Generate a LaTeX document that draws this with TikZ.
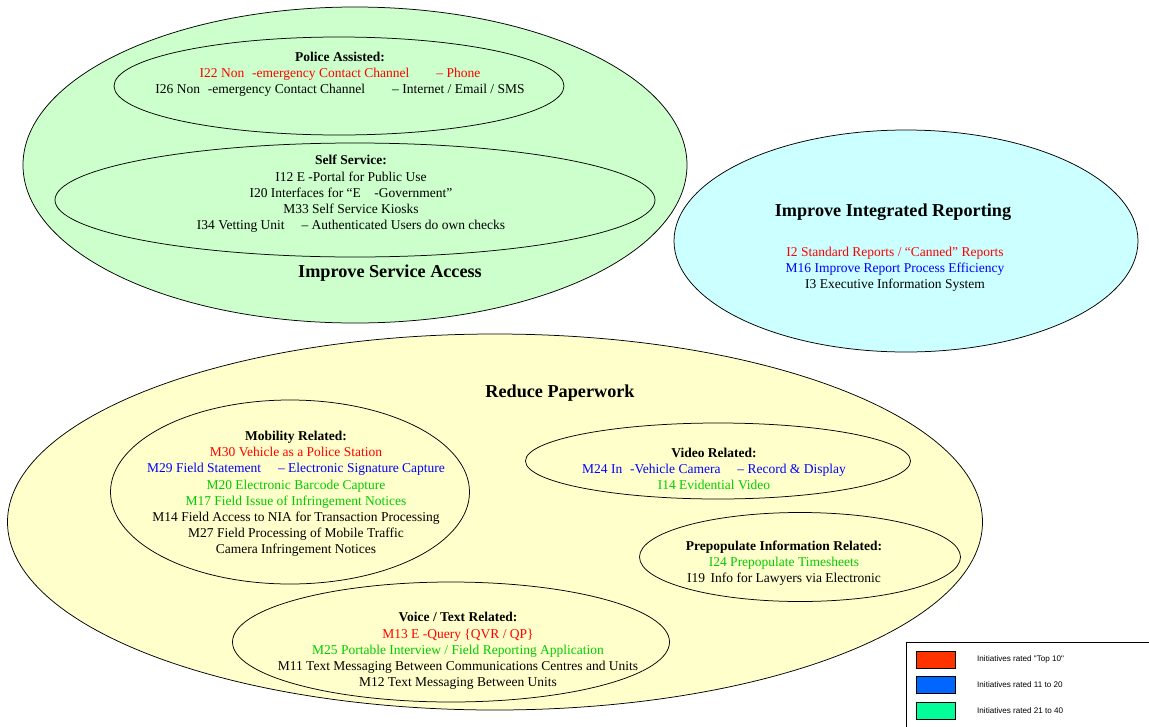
\documentclass[tikz,border=0pt]{standalone}
\usepackage{fontspec}
\setmainfont{Liberation Serif}
\newfontfamily\legendfont{Liberation Sans}
\usetikzlibrary{shapes.geometric}
\definecolor{fgreen}{HTML}{CCFFCC}
\definecolor{fcyan}{HTML}{CCFFFF}
\definecolor{fyellow}{HTML}{FFFFCC}
\definecolor{tred}{HTML}{FF0000}
\definecolor{tblue}{HTML}{0000FF}
\definecolor{tgreen}{HTML}{00CC00}
\definecolor{lred}{HTML}{FF3300}
\definecolor{lblue}{HTML}{0066FF}
\definecolor{lgreen}{HTML}{00FF99}
\tikzset{
  oval/.style={ellipse, draw=black, line width=0.75pt, inner sep=0pt},
  body/.style={align=center, inner sep=0pt, font=\fontsize{13.5}{16.2}\selectfont},
  bigtitle/.style={inner sep=0pt, font=\fontsize{18.2}{20}\selectfont\bfseries},
  swatch/.style={draw=black, line width=1pt, minimum width=39pt, minimum height=17pt, inner sep=0pt},
  legtext/.style={anchor=west, inner sep=0pt, font=\legendfont\fontsize{8.1}{9}\selectfont}
}
\newcommand{\hd}[1]{\textbf{#1}}
\begin{document}
\begin{tikzpicture}[x=1pt,y=-1pt]
\useasboundingbox (0,0) rectangle (1149,726);
% Improve Service Access
\node[oval, fill=fgreen, minimum width=664pt, minimum height=316pt] (isa) at (355,165) {};
\node[oval, fill=fgreen, minimum width=450pt, minimum height=98pt] (police) at (339,86) {};
\node[oval, fill=fgreen, minimum width=600pt, minimum height=114pt] (self) at (355,200) {};
\node[body] (policeT) at (340,74) {\hd{Police Assisted:}\\
  \textcolor{tred}{I22 Non\,\, -emergency Contact Channel\quad\quad – Phone}\\
  I26 Non\,\, -emergency Contact Channel\quad\quad – Internet / Email / SMS};
\node[body] (selfT) at (351,194) {\hd{Self Service:}\\
  I12 E -Portal for Public Use\\
  I20 Interfaces for “E\quad -Government”\\
  M33 Self Service Kiosks\\
  I34 Vetting Unit\quad\ – Authenticated Users do own checks};
\node[bigtitle] (isaT) at (390,273) {Improve Service Access};
% Improve Integrated Reporting
\node[oval, fill=fcyan, minimum width=464pt, minimum height=222pt] (iir) at (906,241) {};
\node[bigtitle] (iirT) at (893,212) {Improve Integrated Reporting};
\node[body] (iirB) at (895,269) {\textcolor{tred}{I2 Standard Reports / “Canned” Reports}\\
  \textcolor{tblue}{M16 Improve Report Process Efficiency}\\
  I3 Executive Information System};
% Reduce Paperwork
\node[oval, fill=fyellow, minimum width=975pt, minimum height=376pt] (rp) at (495,522) {};
\node[bigtitle] (rpT) at (560,393) {Reduce Paperwork};
\node[oval, fill=fyellow, minimum width=359pt, minimum height=184pt] (mob) at (290,492) {};
\node[body] (mobT) at (296,494) {\hd{Mobility Related:}\\
  \textcolor{tred}{M30 Vehicle as a Police Station}\\
  \textcolor{tblue}{M29 Field Statement\quad\ – Electronic Signature Capture}\\
  \textcolor{tgreen}{M20 Electronic Barcode Capture}\\
  \textcolor{tgreen}{M17 Field Issue of Infringement Notices}\\
  M14 Field Access to NIA for Transaction Processing\\
  M27 Field Processing of Mobile Traffic\\
  Camera Infringement Notices};
\node[oval, fill=fyellow, minimum width=437pt, minimum height=120pt] (voice) at (451,642) {};
\node[body] (voiceT) at (458,651) {\hd{Voice / Text Related:}\\
  \textcolor{tred}{M13 E -Query \{QVR / QP\}}\\
  \textcolor{tgreen}{M25 Portable Interview / Field Reporting Application}\\
  M11 Text Messaging Between Communications Centres and Units\\
  M12 Text Messaging Between Units};
\node[oval, fill=fyellow, minimum width=385pt, minimum height=76pt] (video) at (718,461) {};
\node[body] (videoT) at (714,469) {\hd{Video Related:}\\
  \textcolor{tblue}{M24 In\,\, -Vehicle Camera\quad\ – Record \& Display}\\
  \textcolor{tgreen}{I14 Evidential Video}};
\node[oval, fill=fyellow, minimum width=321pt, minimum height=89pt] (prep) at (800,557) {};
\node[body] (prepT) at (784,563) {\hd{Prepopulate Information Related:}\\
  \textcolor{tgreen}{I24 Prepopulate Timesheets}\\
  I19\, Info for Lawyers via Electronic};
% Legend
\draw[line width=1pt] (906,642) rectangle (1160,740);
\node[swatch, fill=lred] (s1) at (935.5,659.5) {};
\node[swatch, fill=lblue] (s2) at (935.5,685) {};
\node[swatch, fill=lgreen] (s3) at (935.5,711) {};
\node[legtext] (l1) at (977,659.5) {Initiatives rated "Top 10"};
\node[legtext] (l2) at (977,685) {Initiatives rated 11 to 20};
\node[legtext] (l3) at (977,711) {Initiatives rated 21 to 40};
\end{tikzpicture}
\end{document}
